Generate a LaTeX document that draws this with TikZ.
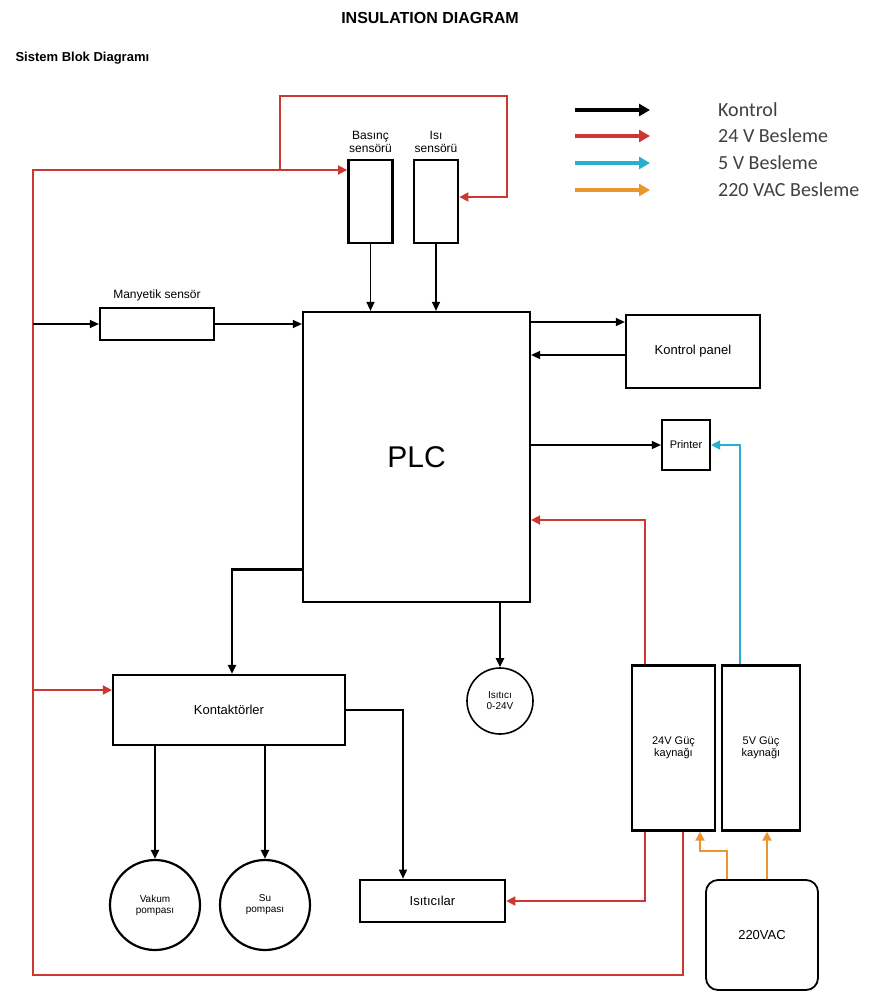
\documentclass[tikz,border=0pt]{standalone}
\usepackage{fontspec}
\setmainfont{Liberation Sans}
\newfontfamily\legfont{Carlito}
\usetikzlibrary{arrows.meta,positioning,calc}
\definecolor{wirered}{RGB}{205,55,50}
\definecolor{wirecyan}{RGB}{40,175,205}
\definecolor{wireorange}{RGB}{232,150,45}
\tikzset{
  unit/.style={draw=black,line width=2.2pt,fill=white,align=center,font=\fontsize{13}{14}\selectfont,inner sep=1pt},
  sensor/.style={unit,line width=2.8pt,minimum width=44pt,minimum height=83pt},
  load/.style={circle,draw=black,line width=1.6pt,fill=white,align=center,font=\fontsize{10}{11}\selectfont,inner sep=0pt},
  supply/.style={unit,line width=2.4pt,minimum height=165pt,font=\fontsize{11}{12}\selectfont},
  lbl/.style={align=center,font=\fontsize{12}{13}\selectfont,inner sep=0pt},
  legtext/.style={anchor=west,inner sep=0pt,font=\legfont\fontsize{20}{21}\selectfont,text=black!75},
  ctl/.style={-{Triangle[length=9pt,width=8pt]},draw=black,line width=1.4pt},
  ctlb/.style={ctl,line width=2.8pt},
  p24/.style={-{Triangle[length=9pt,width=9pt]},draw=wirered,line width=1.7pt},
  p5/.style={p24,draw=wirecyan},
  p220/.style={p24,draw=wireorange,line width=2.2pt},
  legarr/.style={-{Triangle[length=11pt,width=12pt]},line width=3.8pt}
}
\begin{document}
\begin{tikzpicture}[x=1pt,y=-1pt]
  \useasboundingbox[fill=white] (0,0) rectangle (876,997);
  % titles
  \node[font=\bfseries\fontsize{16}{17}\selectfont] (title) at (430,18) {INSULATION DIAGRAM};
  \node[anchor=west,font=\bfseries\fontsize{13}{14}\selectfont] (subtitle) at (12,58) {Sistem Blok Diagramı};
  % legend
  \foreach \yy/\cc/\tt [count=\i] in {110/black/Kontrol,136/wirered/24 V Besleme,163/wirecyan/5 V Besleme,190/wireorange/220 VAC Besleme}{
    \coordinate (ls\i) at (575,\yy);
    \coordinate (le\i) at (650,\yy);
    \draw[legarr,draw=\cc] (ls\i) -- (le\i);
    \node[legtext] (lt\i) at (718,\yy) {\tt};
  }
  % sensors
  \node[sensor] (bsen) at (370.5,201.5) {};
  \node[sensor] (isen) at (436,201.5) {};
  \node[lbl,above=6pt of bsen] (bsenlbl) {Basınç\\sensörü};
  \node[lbl,above=6pt of isen] (isenlbl) {Isı\\sensörü};
  \node[unit,minimum width=114pt,minimum height=32pt] (msen) at (157,324) {};
  \node[lbl,above=6pt of msen] (msenlbl) {Manyetik sensör};
  % controller and panels
  \node[unit,minimum width=227pt,minimum height=290pt,font=\fontsize{30}{32}\selectfont] (plc) at (416.5,457) {PLC};
  \node[unit,minimum width=134pt,minimum height=73pt] (kpanel) at (693,351.5) {Kontrol panel};
  \node[unit,minimum width=48pt,minimum height=50pt,font=\fontsize{11}{12}\selectfont] (prn) at (686,445) {Printer};
  % loads
  \node[unit,minimum width=232pt,minimum height=70pt] (kont) at (229,710) {Kontaktörler};
  \node[load,minimum size=66pt] (htr) at (500,701) {Isıtıcı\\0-24V};
  \node[load,minimum size=90pt,line width=2.2pt] (vpump) at (155,905) {Vakum\\pompası};
  \node[load,minimum size=90pt,line width=2.2pt] (spump) at (265,905) {Su\\pompası};
  \node[unit,minimum width=145pt,minimum height=42pt,line width=2.6pt] (isit) at (432.5,901) {Isıtıcılar};
  % supplies
  \node[supply,minimum width=83pt] (g24) at (673.5,748) {24V Güç\\kaynağı};
  \node[supply,minimum width=78pt] (g5) at (761,748) {5V Güç\\kaynağı};
  \node[unit,rounded corners=12pt,line width=1.8pt,minimum width=112pt,minimum height=110pt] (ac) at (762,935) {220VAC};
  % bus corners
  \coordinate (busTop) at (33,170);
  \coordinate (busBot) at (33,975);
  \coordinate (busM) at (33,324);
  \coordinate (busK) at (33,690);
  \coordinate (loopL) at (280,96);
  \coordinate (loopR) at (507,96);
  % 24 V lines
  \draw[p24] ([xshift=9.5pt]g24.south) |- (busBot) -- (busTop) -- (bsen.west |- busTop);
  \draw[p24] (loopL |- busTop) -- (loopL) -- (loopR) |- ([yshift=4.5pt]isen.east);
  \draw[p24] (busK) -- (kont.west |- busK);
  \draw[p24] ([xshift=-28.5pt]g24.south) |- (isit.east);
  \draw[p24] ([xshift=-28.5pt]g24.north) |- ([yshift=-63pt]plc.east);
  % 5 V and 220 VAC lines
  \draw[p5] ([xshift=-21pt]g5.north) |- (prn.east);
  \draw[p220] ([xshift=-35pt]ac.north) -- ++(0,-28) -| ([xshift=26.5pt]g24.south);
  \draw[p220] ([xshift=5pt]ac.north) -- ([xshift=5pt]ac.north |- g5.south);
  % control lines
  \draw[ctl] (busM) -- (msen.west);
  \draw[ctl] (msen.east) -- (plc.west |- msen.east);
  \draw[ctl] (bsen.south) -- (bsen.south |- plc.north);
  \draw[ctl] (isen.south) -- (isen.south |- plc.north);
  \draw[ctl] ([yshift=135pt]plc.east) -- ([yshift=135pt]plc.east -| kpanel.west);
  \draw[ctl] ([yshift=102pt]plc.east -| kpanel.west) -- ([yshift=102pt]plc.east);
  \draw[ctl] (plc.east |- prn.west) -- (prn.west);
  \draw[ctlb] (plc.south -| htr.north) -- (htr.north);
  \draw[ctlb] ([yshift=34pt]plc.south west) -| ([xshift=3pt]kont.north);
  \draw[ctlb] (kont.south -| vpump.north) -- (vpump.north);
  \draw[ctlb] (kont.south -| spump.north) -- (spump.north);
  \draw[ctl] (kont.east) -| ([xshift=-29.5pt]isit.north);
\end{tikzpicture}
\end{document}
